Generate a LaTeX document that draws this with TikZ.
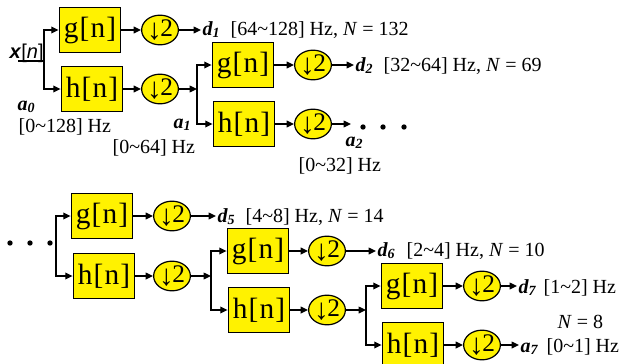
\documentclass[tikz,border=0pt]{standalone}
\usepackage{fontspec}
\setmainfont{Liberation Serif}
\newfontfamily\xfont{Liberation Sans}
\newfontfamily\boxfont[LetterSpace=4]{Liberation Serif}
\usetikzlibrary{arrows.meta,shapes.geometric}
\newcommand\bandsig[2]{{\bfseries\itshape #1\textsubscript{#2}}}
\newcommand\dntwo{\raisebox{-2.5pt}{\xfont\bfseries\fontsize{22}{22}\selectfont ↓}\kern-1pt 2}

\begin{document}
\begin{tikzpicture}[x=0.75pt, y=-0.75pt,
  filt/.style={draw, line width=1.1pt, fill=yellow, minimum width=46pt, minimum height=34pt, inner sep=0pt, font=\boxfont\fontsize{22}{22}\selectfont},
  dwn/.style={draw, line width=0.9pt, fill=yellow, ellipse, minimum width=25pt, minimum height=22pt, inner sep=0pt, font=\rmfamily\fontsize{19}{19}\selectfont},
  lbl/.style={anchor=base west, inner sep=1pt, font=\fontsize{15}{16}\selectfont},
  sig/.style={line width=1pt, -{Triangle[length=5.5pt,width=5pt]}},
  wire/.style={line width=1pt}]
  \useasboundingbox (0,0) rectangle (621,364);

  % level 1
  \node[lbl, font=\xfont\fontsize{15}{16}\selectfont] (xin) at (8,58) {\textbf{\textit{x}}[\textit{n}]};
  \coordinate (xs) at (18,61);
  \coordinate (j0) at (44,61);
  \node[filt] (g1) at (90,30) {g[n]};
  \node[filt] (h1) at (92,89) {h[n]};
  \node[dwn] (c1) at (160,30) {\dntwo};
  \node[dwn] (c2) at (160,89) {\dntwo};
  \draw[wire] (xs) -- (j0);
  \draw[sig] (j0) |- (g1);
  \draw[sig] (j0) |- (h1);
  \draw[sig] (g1) -- (c1);
  \draw[sig] (h1) -- (c2);
  \node[lbl] (d1) at (201,35) {\bandsig{d}{1}};
  \node[lbl] (d1txt) at (229,35) {[64\textasciitilde128] Hz, \textit{N} = 132};
  \draw[sig] (c1) -- (c1 -| d1.west);
  \node[lbl] (a0) at (16,110) {\bandsig{a}{0}};
  \node[lbl] (a0txt) at (17,132) {[0\textasciitilde128] Hz};

  % level 2
  \coordinate (j1) at (197,89);
  \node[filt] (g2) at (243,65) {g[n]};
  \node[filt] (h2) at (244,124) {h[n]};
  \node[dwn] (c3) at (313,65) {\dntwo};
  \node[dwn] (c4) at (313,124) {\dntwo};
  \draw[sig] (c2) -- (j1);
  \draw[sig] (j1) |- (g2);
  \draw[sig] (j1) |- (h2);
  \draw[sig] (g2) -- (c3);
  \draw[sig] (h2) -- (c4);
  \node[lbl] (d2) at (354,71) {\bandsig{d}{2}};
  \node[lbl] (d2txt) at (382,71) {[32\textasciitilde64] Hz, \textit{N} = 69};
  \draw[sig] (c3) -- (c3 -| d2.west);
  \node[lbl] (a1) at (172,128) {\bandsig{a}{1}};
  \node[lbl] (a1txt) at (111,153) {[0\textasciitilde64] Hz};
  \coordinate (a2end) at (351,124);
  \draw[sig] (c4) -- (a2end);
  \foreach \x in {363,383,404} \fill (\x,127) circle (2pt);
  \node[lbl] (a2) at (344,146) {\bandsig{a}{2}};
  \node[lbl] (a2txt) at (297,171) {[0\textasciitilde32] Hz};

  % level 5
  \foreach \x in {10,30,50} \fill (\x,243) circle (2pt);
  \coordinate (j2) at (56,246);
  \node[filt] (g5) at (102,216) {g[n]};
  \node[filt] (h5) at (104,276) {h[n]};
  \node[dwn] (c5) at (172,216) {\dntwo};
  \node[dwn] (c6) at (172,276) {\dntwo};
  \draw[sig] (j2) |- (g5);
  \draw[sig] (j2) |- (h5);
  \draw[sig] (g5) -- (c5);
  \draw[sig] (h5) -- (c6);
  \node[lbl] (d5) at (216,222) {\bandsig{d}{5}};
  \node[lbl] (d5txt) at (244,222) {[4\textasciitilde8] Hz, \textit{N} = 14};
  \draw[sig] (c5) -- (c5 -| d5.west);

  % level 6
  \coordinate (j3) at (211,276);
  \node[filt] (g6) at (258,251) {g[n]};
  \node[filt] (h6) at (259,310) {h[n]};
  \node[dwn] (c7) at (327,251) {\dntwo};
  \node[dwn] (c8) at (327,310) {\dntwo};
  \draw[sig] (c6) -- (j3);
  \draw[sig] (j3) |- (g6);
  \draw[sig] (j3) |- (h6);
  \draw[sig] (g6) -- (c7);
  \draw[sig] (h6) -- (c8);
  \node[lbl] (d6) at (376,256) {\bandsig{d}{6}};
  \node[lbl] (d6txt) at (405,256) {[2\textasciitilde4] Hz, \textit{N} = 10};
  \draw[sig] (c7) -- (c7 -| d6.west);

  % level 7
  \coordinate (j4) at (366,310);
  \node[filt] (g7) at (412,286) {g[n]};
  \node[filt] (h7) at (413,345) {h[n]};
  \node[dwn] (c9) at (482,286) {\dntwo};
  \node[dwn] (c10) at (482,345) {\dntwo};
  \draw[sig] (c8) -- (j4);
  \draw[sig] (j4) |- (g7);
  \draw[sig] (j4) |- (h7);
  \draw[sig] (g7) -- (c9);
  \draw[sig] (h7) -- (c10);
  \node[lbl] (d7) at (517,293) {\bandsig{d}{7}};
  \node[lbl] (d7txt) at (542,293) {[1\textasciitilde2] Hz};
  \draw[sig] (c9) -- (c9 -| d7.west);
  \node[lbl] (n7) at (556,328) {\textit{N} = 8};
  \node[lbl] (a7) at (519,352) {\bandsig{a}{7}};
  \node[lbl] (a7txt) at (545,352) {[0\textasciitilde1] Hz};
  \draw[sig] (c10) -- (c10 -| a7.west);
\end{tikzpicture}
\end{document}
